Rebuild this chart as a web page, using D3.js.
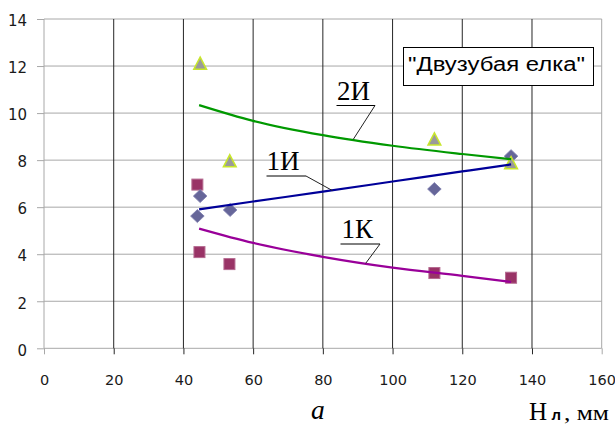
<!DOCTYPE html>
<html>
<head>
<meta charset="utf-8">
<script src="https://cdn.jsdelivr.net/npm/d3@7"></script>
<style>
  html, body { margin: 0; padding: 0; background: #fff; }
  svg { display: block; }
</style>
</head>
<body>
<svg id="chart" width="615" height="425"></svg>
<script>
// ---- data ----
const xTicks = [0, 20, 40, 60, 80, 100, 120, 140, 160];
const yTicks = [0, 2, 4, 6, 8, 10, 12, 14];

// measured points
const x2I = [44.8, 53.3, 112, 134];
const y2I = [12.1, 7.95, 8.88, 7.87];
const x1I = [44.0, 44.8, 53.4, 112, 134];
const y1I = [5.62, 6.47, 5.88, 6.77, 8.17];
const x1K = [44.0, 44.6, 53.2, 112, 134];
const y1K = [6.96, 4.09, 3.58, 3.2, 3.0];

// trend lines
const trendX  = [44.5, 60, 80, 100, 120, 134];
const trend2I = [10.34, 9.67, 9.06, 8.61, 8.26, 8.04];
const trend1I = [5.91, 6.24, 6.66, 7.09, 7.52, 7.82];
const trend1K = [5.09, 4.48, 3.89, 3.43, 3.08, 2.82];

const legendText = "\"Двузубая елка\"";

// ---- layout ----
const svg = d3.select("#chart");
const mLeft = 44, mRight = 601.7, mTop = 19, mBottom = 348.3;
const x = d3.scaleLinear().domain([0, 160]).range([mLeft, mRight]);
const y = d3.scaleLinear().domain([0, 14]).range([mBottom, mTop]);

const gray = "#a8a8a8", dark = "#262626";

// horizontal gridlines
svg.append("g").selectAll("line").data(yTicks).join("line")
  .attr("x1", mLeft).attr("x2", mRight)
  .attr("y1", d => y(d)).attr("y2", d => y(d))
  .attr("stroke", gray).attr("stroke-width", 1);

// vertical gridlines
svg.append("g").selectAll("line").data(xTicks).join("line")
  .attr("x1", d => x(d)).attr("x2", d => x(d))
  .attr("y1", mTop).attr("y2", mBottom)
  .attr("stroke", d => (d === 0 || d === 160) ? gray : dark).attr("stroke-width", 1);

// y axis (labels + short ticks)
const yAxis = svg.append("g").attr("transform", `translate(${mLeft},0)`)
  .call(d3.axisLeft(y).tickValues(yTicks).tickSize(7).tickPadding(10).tickFormat(d3.format("d")));
yAxis.select(".domain").remove();
yAxis.selectAll(".tick line").attr("stroke", gray);
yAxis.selectAll(".tick text").attr("fill", "#1a1a1a")
  .style("font-family", "'DejaVu Sans', sans-serif").style("font-size", "15px")
  .attr("dy", "0.45em");

// x axis
const xAxis = svg.append("g").attr("transform", `translate(0,${mBottom})`)
  .call(d3.axisBottom(x).tickValues(xTicks).tickSize(6).tickFormat(d3.format("d")));
xAxis.select(".domain").remove();
xAxis.selectAll(".tick line").attr("stroke", d => (d === 0 || d === 160) ? gray : dark);
xAxis.selectAll(".tick text").attr("fill", "#1a1a1a")
  .style("font-family", "'DejaVu Sans', sans-serif").style("font-size", "14.5px")
  .attr("y", 37).attr("dy", null);

// legend box
const lg = svg.append("g");
lg.append("rect").attr("x", 403.5).attr("y", 47.5).attr("width", 190).attr("height", 38)
  .attr("fill", "#fff").attr("stroke", "#000").attr("stroke-width", 1);
lg.append("text").attr("x", 408).attr("y", 71)
  .attr("textLength", 177).attr("lengthAdjust", "spacingAndGlyphs")
  .style("font-family", "'Liberation Sans', Arial, sans-serif").style("font-size", "20px")
  .attr("fill", "#000").text(legendText);

// markers
const zip = (xs, ys) => xs.map((v, i) => [v, ys[i]]);

svg.append("g").selectAll("rect").data(zip(x1K, y1K)).join("rect")
  .attr("x", d => x(d[0]) - 5.5).attr("y", d => y(d[1]) - 5.5)
  .attr("width", 11).attr("height", 11)
  .attr("fill", "#993366").attr("stroke", "#b56a90").attr("stroke-width", 1);

svg.append("g").selectAll("path").data(zip(x1I, y1I)).join("path")
  .attr("transform", d => `translate(${x(d[0])},${y(d[1])})`)
  .attr("d", "M0,-6.5L6.8,0L0,6.5L-6.8,0Z")
  .attr("fill", "#666699").attr("stroke", "#7e7eae").attr("stroke-width", 0.8);

svg.append("g").selectAll("path").data(zip(x2I, y2I)).join("path")
  .attr("transform", d => `translate(${x(d[0])},${y(d[1])})`)
  .attr("d", "M0,-6.5L6.3,5.5L-6.3,5.5Z")
  .attr("fill", "#9a9a9a").attr("stroke", "#c8e62c").attr("stroke-width", 1.6);

// trend lines
const line = d3.line().x(d => x(d[0])).y(d => y(d[1])).curve(d3.curveMonotoneX);
[[trend2I, "#009900"], [trend1I, "#000099"], [trend1K, "#990099"]].forEach(([ys, c]) => {
  svg.append("path").datum(zip(trendX, ys)).attr("d", line)
    .attr("fill", "none").attr("stroke", c).attr("stroke-width", 2.2);
});

// curve labels with underline and leader
const labels = [
  { t: "2И", tx: 337, ty: 100, ux1: 336.5, ux2: 375, uy: 105.5, lx: 353.3, ly: 139.3 },
  { t: "1И", tx: 266.5, ty: 170, ux1: 266.5, ux2: 306, uy: 176, lx: 332.3, ly: 190.5 },
  { t: "1К", tx: 341.5, ty: 237.5, ux1: 340.5, ux2: 380, uy: 244, lx: 365.7, ly: 263.3 }
];
const lab = svg.append("g");
labels.forEach(l => {
  lab.append("text").attr("x", l.tx).attr("y", l.ty)
    .style("font-family", "'Liberation Serif', 'Times New Roman', serif").style("font-size", "27px")
    .attr("fill", "#000").text(l.t);
  lab.append("line").attr("x1", l.ux1).attr("x2", l.ux2).attr("y1", l.uy).attr("y2", l.uy)
    .attr("stroke", "#000").attr("stroke-width", 1);
  lab.append("line").attr("x1", l.ux2).attr("x2", l.lx).attr("y1", l.uy).attr("y2", l.ly)
    .attr("stroke", "#222").attr("stroke-width", 1);
});

// bottom captions
svg.append("text").attr("x", 311).attr("y", 419)
  .style("font-family", "'Liberation Serif', 'Times New Roman', serif").style("font-size", "27.5px")
  .style("font-style", "italic").attr("fill", "#000").text("a");

svg.append("text").attr("x", 529).attr("y", 420)
  .style("font-family", "'Liberation Serif', 'Times New Roman', serif").style("font-size", "25px")
  .attr("fill", "#000").text("Н");
svg.append("text").attr("x", 551.5).attr("y", 420)
  .style("font-family", "'Liberation Sans', Arial, sans-serif").style("font-size", "15px")
  .style("font-weight", "bold").attr("fill", "#000").text("л");
svg.append("text").attr("x", 564).attr("y", 420)
  .attr("textLength", 45).attr("lengthAdjust", "spacingAndGlyphs")
  .style("font-family", "'Liberation Serif', 'Times New Roman', serif").style("font-size", "20px")
  .attr("fill", "#000").text(", мм");
</script>
</body>
</html>
